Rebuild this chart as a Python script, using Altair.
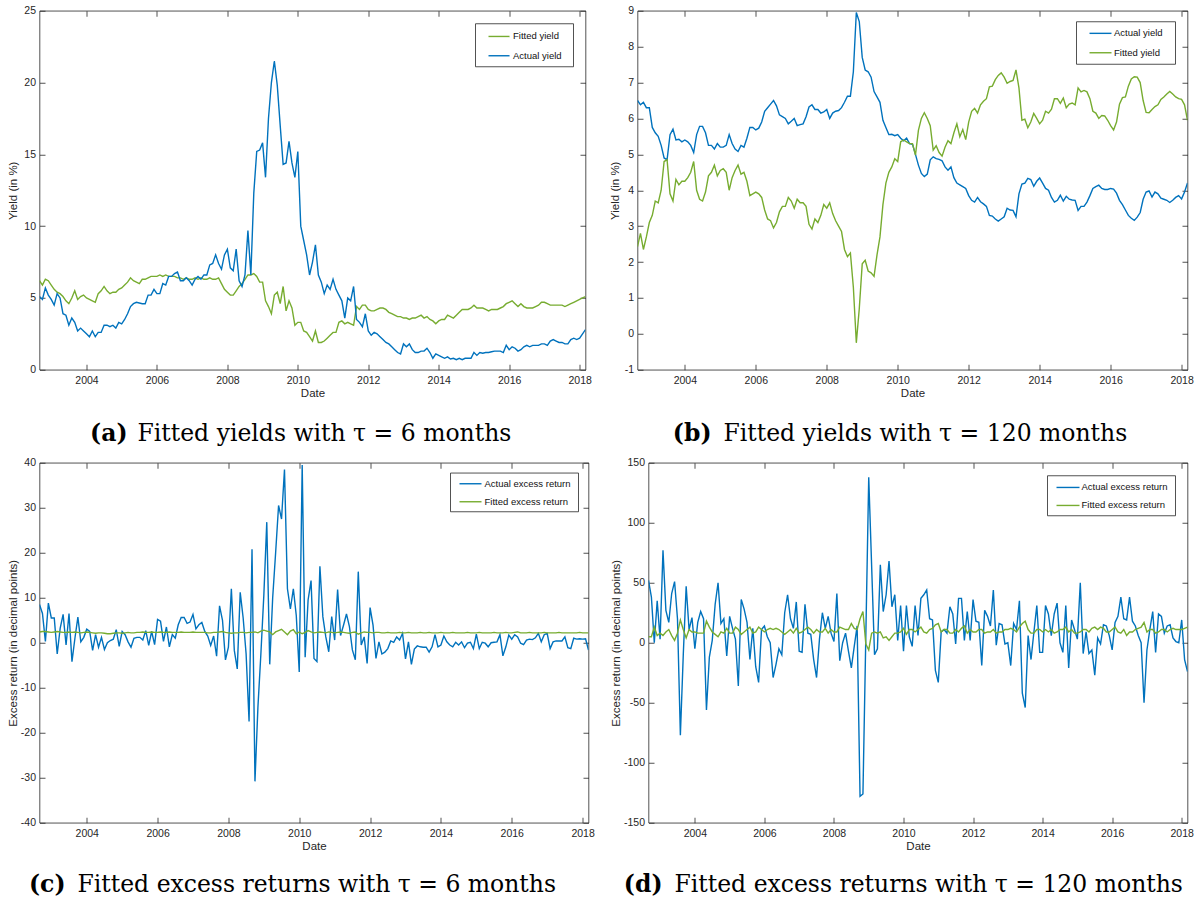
import altair as alt
import pandas as pd

# Monthly observations, Sep 2002 .. Mar 2018 (187 months)
START = 2002 + 8 / 12
N_MONTHS = 187
END = START + (N_MONTHS - 1) / 12
YEAR_TICKS = [2004, 2006, 2008, 2010, 2012, 2014, 2016, 2018]

BLUE = "#0072BD"
GREEN = "#77AC30"
INK = "#262626"
SANS = "Liberation Sans"
SERIF = "DejaVu Serif"
LINE_W = 1.4

# ---- tau = 6 months: yields (in %) ----
yield6_actual = [
    5.1, 4.9, 5.7, 5.2, 4.9, 4.5, 5.3, 5.0, 3.9, 3.8, 3.1, 3.6,
    3.3, 2.7, 2.9, 2.7, 2.5, 2.3, 2.7, 2.3, 2.6, 2.6, 3.1, 3.1,
    3.0, 3.1, 2.9, 3.3, 3.2, 3.5, 3.9, 4.4, 4.6, 4.7, 4.65, 4.6,
    4.6, 5.2, 5.2, 5.6, 5.3, 5.3, 6.0, 5.9, 6.5, 6.5, 6.7, 6.8,
    6.2, 6.2, 6.4, 6.2, 5.9, 6.3, 6.5, 6.3, 6.6, 6.6, 7.3, 7.4,
    8.0, 7.4, 7.0, 8.0, 8.4, 7.1, 6.9, 8.4, 6.2, 5.8, 6.6, 9.7,
    6.6, 12.3, 15.2, 15.3, 15.8, 13.4, 17.5, 20.0, 21.5, 19.8, 17.0, 14.3,
    14.4, 15.9, 14.4, 13.4, 15.2, 10.0, 9.0, 8.0, 6.6, 7.5, 8.7, 6.6,
    6.1, 5.3, 5.9, 5.6, 6.3, 5.6, 5.2, 4.8, 3.6, 5.0, 4.8, 5.8,
    3.5, 3.3, 3.0, 3.9, 2.7, 2.4, 2.6, 2.5, 2.3, 2.1, 1.9, 1.8,
    1.6, 1.4, 1.2, 1.1, 1.8, 1.6, 1.8, 1.4, 1.2, 1.2, 1.3, 1.3,
    1.5, 1.2, 0.8, 1.1, 1.0, 0.9, 0.8, 0.9, 0.75, 0.8, 0.7, 0.8,
    0.7, 0.8, 0.8, 0.8, 1.2, 1.0, 1.2, 1.15, 1.2, 1.2, 1.25, 1.3,
    1.3, 1.3, 1.2, 1.7, 1.4, 1.6, 1.5, 1.3, 1.4, 1.6, 1.7, 1.6,
    1.7, 1.7, 1.7, 1.8, 1.8, 1.7, 2.0, 2.1, 2.0, 1.9, 1.9, 1.8,
    1.8, 2.1, 2.2, 2.1, 2.2, 2.5, 2.8,
]
yield6_fitted = [
    6.2, 5.9, 6.3, 6.2, 5.9, 5.6, 5.4, 5.3, 5.1, 4.8, 4.6, 5.0,
    5.5, 4.9, 5.1, 5.2, 5.0, 4.9, 4.8, 4.7, 5.3, 5.5, 5.8, 5.5,
    5.3, 5.4, 5.4, 5.6, 5.7, 5.9, 6.1, 6.4, 6.2, 6.1, 6.0, 6.3,
    6.3, 6.4, 6.5, 6.5, 6.5, 6.6, 6.5, 6.6, 6.5, 6.5, 6.5, 6.4,
    6.4, 6.3, 6.4, 6.3, 6.3, 6.4, 6.3, 6.4, 6.3, 6.3, 6.4, 6.3,
    6.3, 6.4, 6.0, 5.6, 5.4, 5.2, 5.2, 5.5, 5.8, 6.0, 6.3, 6.6,
    6.6, 6.7, 6.5, 6.1, 6.1, 4.8, 4.4, 3.9, 5.2, 5.4, 4.6, 5.8,
    4.1, 4.8, 4.3, 3.1, 3.3, 3.3, 2.7, 2.6, 2.3, 2.0, 2.7, 1.9,
    1.9, 2.0, 2.2, 2.4, 2.6, 2.6, 3.3, 3.4, 3.2, 3.3, 3.2, 3.1,
    4.4, 4.2, 4.5, 4.5, 4.2, 4.1, 4.1, 4.2, 4.3, 4.3, 4.2, 4.0,
    3.9, 3.8, 3.7, 3.7, 3.6, 3.6, 3.5, 3.6, 3.6, 3.7, 3.8, 3.6,
    3.7, 3.5, 3.4, 3.2, 3.4, 3.5, 3.5, 3.8, 3.7, 3.6, 3.8, 4.0,
    4.2, 4.2, 4.2, 4.3, 4.5, 4.3, 4.3, 4.3, 4.2, 4.1, 4.2, 4.2,
    4.2, 4.3, 4.4, 4.6, 4.7, 4.8, 4.6, 4.4, 4.6, 4.4, 4.3, 4.3,
    4.3, 4.4, 4.5, 4.7, 4.7, 4.6, 4.5, 4.5, 4.5, 4.5, 4.5, 4.4,
    4.5, 4.6, 4.7, 4.8, 4.9, 5.0, 5.1,
]

# ---- tau = 120 months: yields (in %) ----
yield120_actual = [
    6.5, 6.38, 6.45, 6.3, 6.3, 5.75, 5.6, 5.5, 5.25, 4.9, 4.85, 5.55,
    5.7, 5.4, 5.42, 5.35, 5.4, 5.35, 5.25, 5.05, 5.55, 5.78, 5.78, 5.6,
    5.25, 5.25, 5.15, 5.3, 5.2, 5.2, 5.25, 5.55, 5.3, 5.15, 5.08, 5.25,
    5.2, 5.45, 5.75, 5.75, 5.68, 5.73, 5.9, 6.2, 6.3, 6.4, 6.5, 6.35,
    6.1, 6.05, 6.0, 5.85, 5.92, 6.0, 5.8, 5.83, 5.85, 6.05, 6.32, 6.38,
    6.25, 6.25, 6.15, 6.18, 6.25, 6.0, 6.15, 6.2, 6.22, 6.3, 6.45, 6.62,
    6.62, 7.3, 8.95, 8.7, 7.7, 7.35, 7.3, 7.15, 6.75, 6.6, 6.45, 5.95,
    5.75, 5.55, 5.56, 5.52, 5.55, 5.45, 5.38, 5.45, 5.3, 5.28, 5.0, 4.7,
    4.47, 4.38, 4.45, 4.85, 4.93, 4.88, 4.86, 4.82, 4.65, 4.56, 4.65, 4.35,
    4.2, 4.15, 4.1, 4.05, 3.85, 3.72, 3.67, 3.8, 3.68, 3.62, 3.55, 3.3,
    3.28, 3.2, 3.14, 3.2, 3.26, 3.5, 3.45, 3.44, 3.26, 3.9, 4.17, 4.2,
    4.33, 4.3, 4.11, 4.25, 4.34, 4.2, 4.05, 4.0, 3.8, 3.67, 3.72, 3.86,
    3.7, 3.83, 3.75, 3.73, 3.72, 3.44, 3.55, 3.55, 3.67, 3.85, 4.05, 4.1,
    4.14, 4.05, 4.02, 4.02, 4.05, 4.03, 3.92, 3.72, 3.6, 3.45, 3.3, 3.22,
    3.16, 3.25, 3.38, 3.75, 3.95, 3.98, 3.81, 3.95, 3.9, 3.78, 3.75, 3.72,
    3.66, 3.72, 3.8, 3.85, 3.76, 3.95, 4.2,
]
yield120_fitted = [
    2.43, 2.8, 2.35, 2.7, 3.1, 3.3, 3.7, 3.65, 4.0, 4.8, 4.85, 3.9,
    3.7, 4.3, 4.15, 4.25, 4.25, 4.35, 4.5, 4.8, 4.0, 3.75, 3.7, 3.95,
    4.4, 4.5, 4.7, 4.4, 4.55, 4.6, 4.5, 4.0, 4.35, 4.55, 4.7, 4.45,
    4.5, 4.25, 3.85, 3.9, 3.95, 3.9, 3.8, 3.45, 3.2, 3.15, 2.95, 3.1,
    3.4, 3.55, 3.55, 3.8, 3.7, 3.5, 3.75, 3.65, 3.65, 3.55, 3.05, 2.92,
    3.2, 3.1, 3.3, 3.6, 3.5, 3.65, 3.35, 3.15, 3.0, 2.85, 2.35, 2.15,
    2.25, 1.3, -0.25, 0.7, 1.95, 2.05, 1.75, 1.7, 1.6, 2.2, 2.7, 3.6,
    4.2, 4.5, 4.65, 4.88, 4.8, 5.35, 5.4, 5.35, 5.3, 5.3, 4.98, 5.67,
    6.0, 6.16, 6.0, 5.8, 5.12, 5.24, 5.05, 4.95, 5.2, 5.38, 5.3, 5.6,
    5.85, 5.49, 5.69, 5.41, 5.9, 6.2, 6.28, 6.15, 6.38, 6.48, 6.55, 6.88,
    6.9, 7.08, 7.2, 7.27, 7.15, 6.98, 7.03, 7.06, 7.35, 6.85, 5.95, 5.98,
    5.74, 5.9, 6.14, 6.0, 5.85, 5.95, 6.2, 6.15, 6.26, 6.55, 6.55, 6.42,
    6.57, 6.3, 6.4, 6.43, 6.38, 6.85, 6.74, 6.78, 6.74, 6.55, 6.2, 6.15,
    6.0, 6.08, 6.07, 5.95, 5.8, 5.68, 5.9, 6.4, 6.58, 6.6, 6.9, 7.1,
    7.16, 7.15, 7.0, 6.5, 6.17, 6.16, 6.25, 6.33, 6.38, 6.53, 6.6, 6.68,
    6.75, 6.68, 6.6, 6.55, 6.53, 6.38, 5.95,
]

# ---- tau = 6 months: excess returns (in decimal points) ----
excess6_actual = [
    8.5, 6.5, 0.3, 8.8, 5.5, 5.5, -2.5, 3.2, 6.3, -0.5, 6.5, -4.2,
    1.0, 5.7, 0.2, 1.2, 3.0, 2.5, -1.7, 1.8, -1.0, 1.2, -1.5, 0.0,
    0.5, 0.8, 2.9, -0.8, 2.5, 1.8, 0.2, -1.0, 1.0, 1.2, 1.2, 0.6,
    2.7, -0.6, 2.5, -0.4, 5.2, 4.8, 0.3, 3.5, -0.9, 1.8, 1.0, 4.0,
    5.6, 5.6, 4.3, 4.6, 6.3, 3.1, 4.0, 4.5, 2.5, 1.5, -0.6, 1.5,
    -3.0, 8.2, 5.0, -3.8, -1.0, 12.0, -1.7, -5.8, 11.2, 5.5, -2.5, -17.5,
    20.8, -30.8, -14.3, -2.5, 10.5, 26.8, -4.8, 10.0, 20.0, 30.5, 27.5, 38.5,
    12.0, 7.5, 12.0, 6.0, -6.5, 39.5, -3.2, 9.5, 13.8, -3.5, -4.2, 17.0,
    5.8, 1.3, -2.0, 5.8, 0.6, 11.8, 1.6, 3.9, 6.4, 3.6, -1.6, -3.8,
    15.8, -0.5, 1.3, -4.6, 7.8, 3.9, -3.5, 0.2, -2.5, -2.1, -1.3, 0.4,
    0.1, 1.3, 0.6, 2.1, -3.6, 0.2, -4.8, -1.4, -0.7, -0.9, -1.0, -1.0,
    -2.1, -0.9, 1.8, -0.9, -0.5, 1.5, 0.2, -0.5, -0.9, 0.1, -0.5, 0.2,
    -1.1, -0.1, 0.1, -1.3, 1.9, -1.3, 0.1, -0.1, -0.9, 0.0, 0.1, 0.2,
    1.8, -2.9, -0.9, 1.7, 0.8, 1.8, 1.3, -0.1, -0.4, 0.6, 0.8, 0.7,
    1.1, 2.1, 0.2, 1.8, 2.1, -1.3, 0.2, 0.4, 0.4, 0.4, 1.3, -1.1,
    -1.3, 1.0, 0.8, 0.9, 0.8, 0.9, -1.6,
]
excess6_fitted = [
    2.4, 2.5, 2.5, 2.4, 2.3, 2.4, 2.5, 2.4, 2.3, 2.3, 2.4, 2.3,
    2.4, 2.3, 2.2, 2.3, 2.4, 2.3, 2.2, 2.1, 2.2, 2.2, 2.1, 2.0,
    2.0, 2.1, 2.2, 2.2, 2.1, 2.2, 2.3, 2.2, 2.2, 2.3, 2.3, 2.4,
    2.3, 2.3, 2.4, 2.3, 2.3, 2.4, 2.3, 2.3, 2.4, 2.3, 2.3, 2.3,
    2.4, 2.3, 2.3, 2.3, 2.4, 2.3, 2.3, 2.3, 2.3, 2.2, 2.2, 2.3,
    2.3, 2.4, 2.5, 2.3, 2.2, 2.1, 2.2, 2.2, 2.3, 2.3, 2.2, 2.3,
    2.3, 2.4, 2.2, 2.6, 2.8, 2.6, 2.4, 1.8, 2.4, 2.7, 3.0, 2.4,
    1.8, 2.6, 2.9, 2.0, 2.4, 2.0, 2.3, 2.7, 2.4, 2.2, 2.3, 2.4,
    2.3, 2.2, 2.4, 2.3, 2.2, 2.3, 2.4, 2.3, 2.2, 2.1, 2.3, 2.4,
    1.9, 2.2, 2.4, 2.3, 2.3, 2.2, 2.3, 2.3, 2.2, 2.2, 2.3, 2.2,
    2.2, 2.2, 2.3, 2.2, 2.2, 2.3, 2.2, 2.2, 2.2, 2.3, 2.2, 2.2,
    2.3, 2.2, 2.2, 2.2, 2.3, 2.2, 2.2, 2.2, 2.3, 2.2, 2.2, 2.2,
    2.2, 2.3, 2.2, 2.2, 2.2, 2.3, 2.2, 2.2, 2.2, 2.2, 2.3, 2.2,
    2.2, 2.2, 2.3, 2.2, 2.2, 2.3, 2.4, 2.2, 2.2, 2.2, 2.3, 2.2,
    2.2, 2.2, 2.2, 2.3, 2.2, 2.2, 2.2, 2.2, 2.3, 2.2, 2.2, 2.2,
    2.2, 2.2, 2.2, 2.3, 2.2, 2.2, 2.2,
]

# ---- tau = 120 months: excess returns (in decimal points) ----
excess120_actual = [
    52, 38, 0, 35, 3, 77, 27, 17, 41, 51, 20, -77,
    -10, 47, 11, 21, -5, 17, 26, 20, -56, -12, 2, 32,
    50, 16, 20, -11, 22, 12, 3, -36, 36, 28, 17, -14,
    12, -20, -33, 11, 14, 5, 0, -29, -18, -5, -10, 25,
    40, 20, 12, 34, -7, -8, 32, 8, 7, -14, -29, 3,
    25, 12, 22, 8, 1, 41, -15, 0, 8, -7, -21, -3,
    14, -128, -126, 6, 138, 64, -10, -5, 65, 26, 40, 68,
    30, 40, 2, 31, -7, 31, 5, -3, 31, 6, 37, 40,
    44, 20, 19, -23, -33, 9, 11, 8, 30, 24, -1, 37,
    37, 2, 26, 2, 36, 18, 17, -19, 27, 22, 14, 44,
    -2, 16, 15, -1, 0, -19, 16, 11, 35, -42, -54, 6,
    -14, 9, 31, -8, -8, 31, 24, 6, 24, 33, 0, -8,
    31, -21, 19, 11, 3, 50, -9, 9, -9, -6, -27, 4,
    -1, 15, 14, 6, -6, 17, 22, 38, 20, 19, 38, 18,
    14, 6, 0, -50, -6, 11, 26, -8, 24, 22, 8, 14,
    15, 4, 1, 0, 19, -14, -24,
]
excess120_fitted = [
    5, 5, 13, 6, 8, 6, 9, 11, 6, 2, 8, 19,
    11, 4, 11, 9, 9, 8, 8, 8, 18, 13, 9, 7,
    5, 9, 8, 12, 8, 8, 13, 11, 7, 9, 11, 13,
    8, 9, 13, 11, 9, 11, 12, 11, 12, 11, 9, 7,
    9, 11, 8, 12, 8, 9, 11, 13, 11, 8, 11, 9,
    9, 12, 8, 11, 9, 9, 13, 12, 11, 11, 16, 12,
    11, 20, 26, -1, -6, 8, 9, 8, 9, 4, 5, 2,
    5, 8, 8, 9, 12, 7, 11, 11, 9, 11, 13, 9,
    8, 11, 12, 15, 16, 9, 11, 11, 8, 8, 11, 9,
    12, 14, 8, 11, 9, 9, 11, 11, 8, 9, 9, 11,
    8, 9, 9, 11, 11, 12, 11, 9, 13, 16, 18, 11,
    8, 8, 11, 11, 9, 11, 9, 11, 8, 9, 11, 11,
    13, 9, 11, 8, 8, 9, 11, 11, 9, 12, 13, 11,
    13, 12, 9, 9, 11, 13, 9, 8, 11, 6, 9, 9,
    11, 12, 13, 17, 9, 11, 11, 8, 9, 11, 11, 9,
    11, 12, 11, 11, 11, 12, 13,
]

for series in (yield6_actual, yield6_fitted, yield120_actual, yield120_fitted,
               excess6_actual, excess6_fitted, excess120_actual, excess120_fitted):
    assert len(series) == N_MONTHS, len(series)


def monthly(values):
    return pd.DataFrame({"t": [START + i / 12 for i in range(len(values))], "v": values})


def x_enc(axis):
    return alt.X("t:Q", scale=alt.Scale(domain=[START, END], nice=False, zero=False), axis=axis)


def y_enc(domain, axis):
    return alt.Y("v:Q", scale=alt.Scale(domain=domain, nice=False, zero=False), axis=axis)


def inward_axis(orient, offset, values):
    # tick-only axis pushed across the plot so that its ticks point inwards
    return alt.Axis(orient=orient, offset=offset, values=values, labels=False, ticks=True,
                    tickSize=5.5, domain=False, grid=False, title=None)


def panel(first, second, y_domain, y_ticks, y_title, w, h, y_extent, legend, caption):
    (vals1, col1), (vals2, col2) = first, second

    x_main = alt.Axis(orient="bottom", values=YEAR_TICKS, labelExpr="toString(datum.value)",
                      ticks=False, tickSize=0, domain=False, grid=False, labelPadding=5.75,
                      labelFlush=False, labelOverlap=False, title="Date", titlePadding=1.75)
    y_main = alt.Axis(orient="left", values=y_ticks, labelExpr="toString(datum.value)",
                      ticks=False, tickSize=0, domain=False, grid=False, labelPadding=4,
                      labelFlush=False, labelOverlap=False, title=y_title, titlePadding=2,
                      minExtent=y_extent, maxExtent=y_extent)

    line1 = alt.Chart(monthly(vals1)).mark_line(color=col1, strokeWidth=LINE_W, clip=True).encode(
        x=x_enc(x_main), y=y_enc(y_domain, y_main))
    line2 = alt.Chart(monthly(vals2)).mark_line(color=col2, strokeWidth=LINE_W, clip=True).encode(
        x=x_enc(inward_axis("top", -h, YEAR_TICKS)),
        y=y_enc(y_domain, inward_axis("right", -w, y_ticks)))
    ticks_only = alt.Chart(monthly(vals1)).mark_line(strokeOpacity=0).encode(
        x=x_enc(inward_axis("bottom", -h, YEAR_TICKS)),
        y=y_enc(y_domain, inward_axis("left", -w, y_ticks)))

    # legend box drawn inside the plot, top-right corner
    bx0, bx1, by0, by1, rows, sx0, sx1, tx, entries = legend
    box = alt.Chart(pd.DataFrame({"k": [0]})).mark_rect(
        fill="white", stroke=INK, strokeWidth=0.8).encode(
        x=alt.value(bx0), x2=alt.value(bx1), y=alt.value(by0), y2=alt.value(by1))
    keys = []
    for (label, col), ry in zip(entries, rows):
        d = pd.DataFrame({"label": [label]})
        keys.append(alt.Chart(d).mark_rule(color=col, strokeWidth=LINE_W).encode(
            x=alt.value(sx0), x2=alt.value(sx1), y=alt.value(ry)))
        keys.append(alt.Chart(d).mark_text(
            align="left", baseline="middle", font=SANS, fontSize=9.5, color="#111111").encode(
            x=alt.value(tx), y=alt.value(ry), text="label:N"))

    # sub-figure caption underneath the axis
    tag, text, cx, gap, cy = caption
    cap_tag = alt.Chart(pd.DataFrame({"c": [tag]})).mark_text(
        align="right", baseline="alphabetic", font=SERIF, fontWeight="bold",
        fontSize=23.5, color="#000000").encode(
        x=alt.value(cx), y=alt.value(cy), text="c:N")
    cap_text = alt.Chart(pd.DataFrame({"c": [text]})).mark_text(
        align="left", baseline="alphabetic", font=SERIF, fontSize=23.5,
        color="#000000").encode(
        x=alt.value(cx + gap), y=alt.value(cy), text="c:N")

    return alt.layer(line1, line2, ticks_only, box, *keys, cap_tag, cap_text).resolve_axis(
        x="independent", y="independent").properties(width=w, height=h)


YIELD_KEYS_A = [("Fitted yield", GREEN), ("Actual yield", BLUE)]
YIELD_KEYS_B = [("Actual yield", BLUE), ("Fitted yield", GREEN)]
RETURN_KEYS = [("Actual excess return", BLUE), ("Fitted excess return", GREEN)]

pa = panel((yield6_fitted, GREEN), (yield6_actual, BLUE),
           [0, 25], [0, 5, 10, 15, 20, 25], "Yield (in %)", 546, 359, 19,
           (436, 534, 13, 56, [25.7, 45], 449, 470, 473.5, YIELD_KEYS_A),
           ("(a)", "Fitted yields with \u03c4 = 6 months", 88, 10, 430))

pb = panel((yield120_actual, BLUE), (yield120_fitted, GREEN),
           [-1, 9], list(range(-1, 10)), "Yield (in %)", 550, 359, 15.25,
           (439, 538, 11, 53.5, [22.6, 42], 452, 474, 476.5, YIELD_KEYS_B),
           ("(b)", "Fitted yields with \u03c4 = 120 months", 74, 12, 430))

pc = panel((excess6_actual, BLUE), (excess6_fitted, GREEN),
           [-40, 40], list(range(-40, 41, 10)), "Excess return (in decimal points)",
           549, 360, 19.5,
           (411, 539, 10.3, 49, [21, 39], 420, 442, 445, RETURN_KEYS),
           ("(c)", "Fitted excess returns with \u03c4 = 6 months", 26, 12, 429))

pd_ = panel((excess120_actual, BLUE), (excess120_fitted, GREEN),
            [-150, 150], list(range(-150, 151, 50)), "Excess return (in decimal points)",
            539, 360, 25.25,
            (399, 527, 13, 53, [24.7, 42.7], 408, 431, 433, RETURN_KEYS),
            ("(d)", "Fitted excess returns with \u03c4 = 120 months", 14, 12, 429))

top = alt.hconcat(pa, pb, spacing=52, bounds="flush")
bottom = alt.hconcat(pc, pd_, spacing=60, bounds="flush")

chart = alt.vconcat(top, bottom, spacing=11).properties(
    padding={"left": 6.5, "top": 4.75, "right": 5, "bottom": 2}
).configure_view(
    stroke=INK, strokeWidth=0.8
).configure_axis(
    labelFont=SANS, labelFontSize=10.5, labelColor=INK,
    titleFont=SANS, titleFontSize=11.5, titleColor=INK, titleFontWeight="normal",
    tickColor=INK, tickWidth=0.8
)

chart.save("out.html", embed_options={"renderer": "svg", "actions": False})
